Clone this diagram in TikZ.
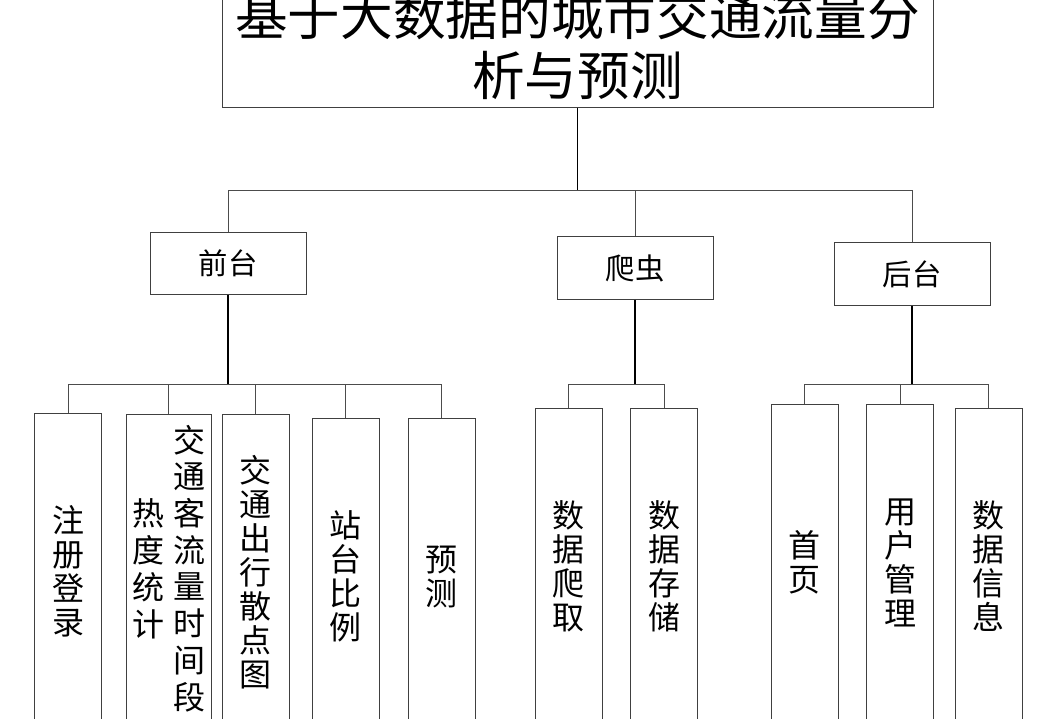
\documentclass[tikz,border=0pt]{standalone}
\usepackage{fontspec}
\setmainfont{Noto Sans CJK SC}
\usepackage{tikz}

\begin{document}
\begin{tikzpicture}[x=0.75pt,y=-0.75pt,
    box/.style={draw=black!75,line width=0.75pt,inner sep=0pt,align=center},
    topbox/.style={box,minimum width=533.25pt,minimum height=93pt,
        font=\fontsize{39.5}{45}\selectfont},
    midbox/.style={box,minimum width=117pt,minimum height=47pt,
        font=\fontsize{22}{26}\selectfont},
    leafbox/.style={box,anchor=north,minimum width=50.25pt,minimum height=237pt,
        font=\fontsize{24}{25.5}\selectfont},
    stem/.style={draw=black,line width=1pt},
    bar/.style={draw=black!70,line width=0.75pt}]
    \useasboundingbox (0,0) rectangle (1048,718);

    \node[topbox] (top) at (577.5,45) {基于大数据的城市交通流量分\\析与预测};

    \node[midbox] (qt) at (228,263.5) {前台};
    \node[midbox] (pc) at (635,268) {爬虫};
    \node[midbox] (ht) at (912,274) {后台};

    % 前台
    \node[leafbox] (zc) at (68,413) {注\\册\\登\\录};
    \node[leafbox,minimum width=63.75pt] (rd) at (168.5,414)
        {\begin{tabular}[c]{@{}c@{}}热\\度\\统\\计\end{tabular}\hspace{6.75pt}%
         \begin{tabular}[c]{@{}c@{}}交\\通\\客\\流\\量\\时\\间\\段\end{tabular}};
    \node[leafbox] (sd) at (255.5,414) {交\\通\\出\\行\\散\\点\\图};
    \node[leafbox] (zt) at (345.5,418) {站\\台\\比\\例};
    \node[leafbox] (yc) at (441.5,418) {预\\测};

    % 爬虫
    \node[leafbox] (pq) at (568.5,408) {数\\据\\爬\\取};
    \node[leafbox] (cc) at (664,408) {数\\据\\存\\储};

    % 后台
    \node[leafbox] (sy) at (804.5,404) {首\\页};
    \node[leafbox] (yh) at (900,404) {用\\户\\管\\理};
    \node[leafbox] (xx) at (988.5,408) {数\\据\\信\\息};

    \coordinate (j0) at (577.5,190);
    \coordinate (j1) at (228,384);
    \coordinate (j2) at (635,384);
    \coordinate (j3) at (912,384);

    \draw[stem] (top.south) -- (j0);
    \foreach \n in {qt,pc,ht}
        \draw[bar] (j0) -| (\n.north);

    \draw[stem] (qt.south) -- (j1);
    \foreach \n in {zc,rd,sd,zt,yc}
        \draw[bar] (j1) -| (\n.north);

    \draw[stem] (pc.south) -- (j2);
    \foreach \n in {pq,cc}
        \draw[bar] (j2) -| (\n.north);

    \draw[stem] (ht.south) -- (j3);
    \foreach \n in {sy,yh,xx}
        \draw[bar] (j3) -| (\n.north);
\end{tikzpicture}
\end{document}
